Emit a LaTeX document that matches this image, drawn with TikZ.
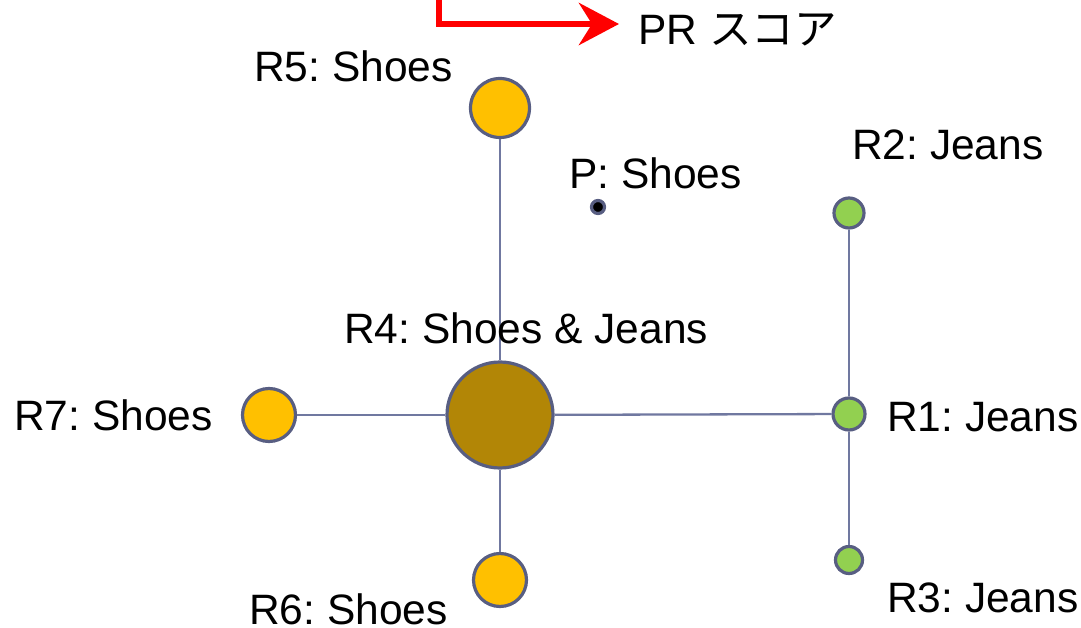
\documentclass[tikz,border=0pt]{standalone}
\usepackage{fontspec}
\setmainfont{Liberation Sans}
\newfontfamily\jpfont{Noto Sans CJK JP}
\usetikzlibrary{arrows.meta}
\definecolor{rimcol}{RGB}{88,94,130}
\definecolor{linkcol}{RGB}{112,120,160}
\definecolor{shoecol}{RGB}{255,192,0}
\definecolor{jeancol}{RGB}{146,208,80}
\definecolor{mixcol}{RGB}{178,134,6}
\frenchspacing
\begin{document}
\begin{tikzpicture}[x=1pt,y=-1pt,
  dot/.style={circle,draw=rimcol,line width=3.2pt,inner sep=0pt},
  shoe/.style={dot,fill=shoecol},
  jean/.style={dot,fill=jeancol},
  link/.style={draw=linkcol,line width=2.3pt},
  lbl/.style={anchor=base west,inner sep=0pt,font=\fontsize{42.5}{50}\selectfont}]
\useasboundingbox (0,0) rectangle (1081,628);

% score pointer
\coordinate (pa) at (439,-5);
\coordinate (pb) at (439,24);
\coordinate (pc) at (619,24);
\draw[red,line width=6.5pt,-{Stealth[length=40pt,width=42pt,inset=13pt]}] (pa) -- (pb) -- (pc);
\node[lbl] (pr) at (638,45) {PR {\jpfont スコア}};

% pages
\node[shoe,minimum size=59pt] (r5) at (500,108) {};
\node[dot,fill=mixcol,minimum size=106pt] (r4) at (500,415) {};
\node[shoe,minimum size=53pt] (r7) at (269,415) {};
\node[shoe,minimum size=53pt] (r6) at (500,580) {};
\node[jean,minimum size=32pt] (r1) at (849,414) {};
\node[jean,minimum size=30pt] (r2) at (849,213) {};
\node[jean,minimum size=27pt] (r3) at (849,560) {};
\node[dot,fill=black,minimum size=13pt] (p) at (598,207) {};

% links
\draw[link] (r5) -- (r4);
\draw[link] (r4) -- (r6);
\draw[link] (r7) -- (r4);
\draw[link] (r4) -- (r1);
\draw[link] (r2) -- (r1);
\draw[link] (r1) -- (r3);

% labels
\node[lbl] (l5) at (254,82) {R5: Shoes};
\node[lbl] (lp) at (569,189) {P: Shoes};
\node[lbl] (l2) at (852,160) {R2: Jeans};
\node[lbl] (l4) at (344,343) {R4: Shoes \& Jeans};
\node[lbl] (l7) at (14,430) {R7: Shoes};
\node[lbl] (l1) at (887,431) {R1: Jeans};
\node[lbl] (l6) at (249,624) {R6: Shoes};
\node[lbl] (l3) at (887,612) {R3: Jeans};
\end{tikzpicture}
\end{document}
